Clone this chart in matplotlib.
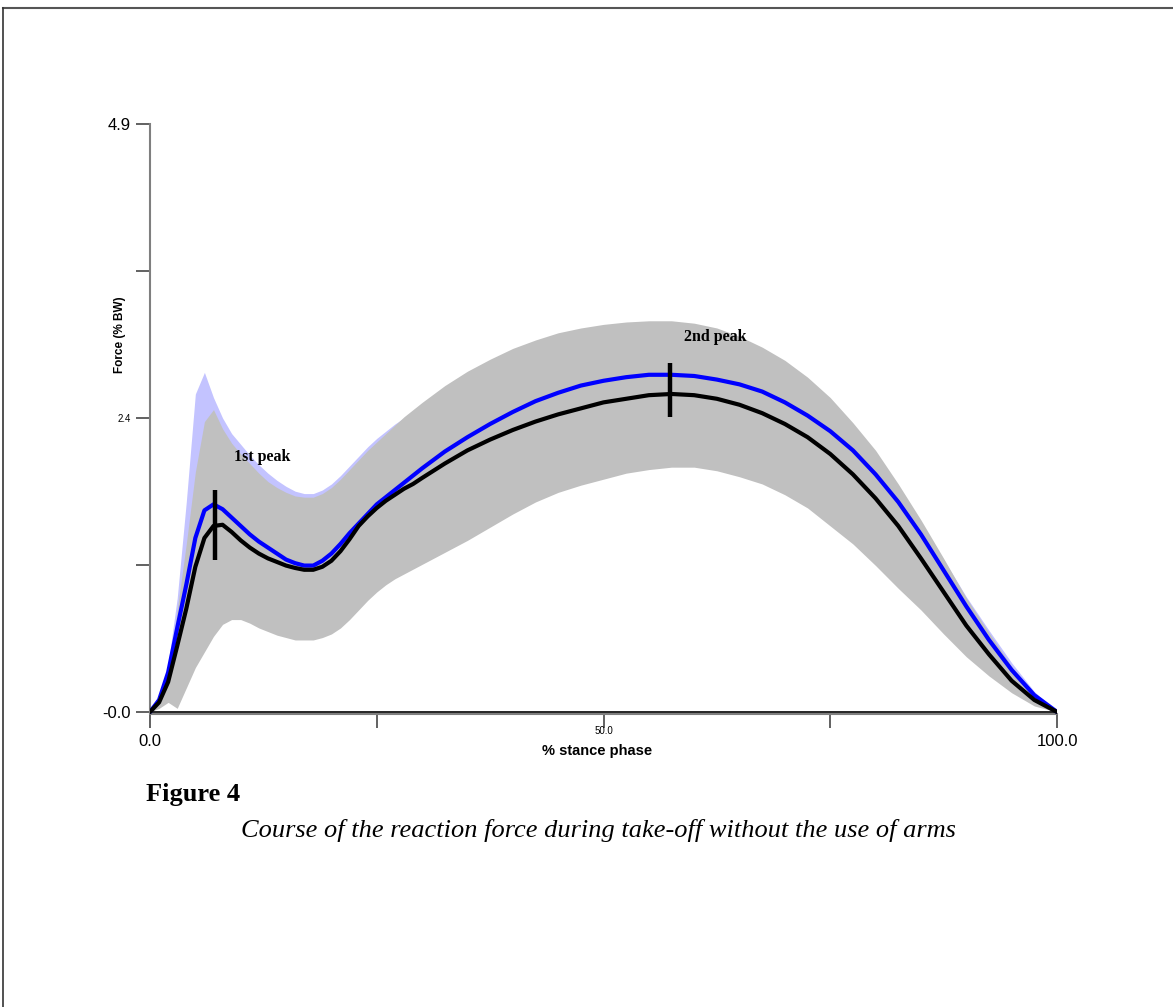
import matplotlib
matplotlib.use("Agg")
import matplotlib.pyplot as plt
from matplotlib.lines import Line2D
from matplotlib.transforms import blended_transform_factory

# ---- data ----
pct = [0, 1, 2, 3, 4, 5, 6, 7, 8, 9, 10, 11, 12, 13, 14, 15, 16, 17, 18, 19, 20,
       21, 22, 23, 24, 25, 26, 27, 28, 29, 30, 32.5, 35, 37.5, 40, 42.5, 45, 47.5,
       50, 52.5, 55, 57.5, 60, 62.5, 65, 67.5, 70, 72.5, 75, 77.5, 80, 82.5, 85,
       87.5, 90, 92.5, 95, 97.5, 100]

mean_black = [0, 0.08, 0.25, 0.55, 0.86, 1.21, 1.45, 1.55, 1.56, 1.5, 1.43, 1.37,
              1.32, 1.28, 1.25, 1.22, 1.2, 1.185, 1.185, 1.21, 1.26, 1.34, 1.44,
              1.55, 1.63, 1.7, 1.76, 1.81, 1.86, 1.9, 1.95, 2.07, 2.18, 2.27, 2.35,
              2.42, 2.48, 2.53, 2.58, 2.61, 2.64, 2.65, 2.64, 2.61, 2.56, 2.49, 2.4,
              2.29, 2.15, 1.98, 1.78, 1.55, 1.28, 1.0, 0.72, 0.48, 0.26, 0.1, 0]

mean_blue = [0, 0.1, 0.33, 0.7, 1.06, 1.45, 1.68, 1.73, 1.69, 1.62, 1.55, 1.48,
             1.42, 1.37, 1.32, 1.27, 1.24, 1.22, 1.22, 1.26, 1.32, 1.4, 1.49, 1.57,
             1.65, 1.73, 1.79, 1.85, 1.91, 1.97, 2.03, 2.17, 2.29, 2.4, 2.5, 2.59,
             2.66, 2.72, 2.76, 2.79, 2.81, 2.81, 2.8, 2.77, 2.73, 2.67, 2.58, 2.47,
             2.34, 2.18, 1.98, 1.75, 1.48, 1.18, 0.88, 0.6, 0.35, 0.14, 0]

black_upper = [0, 0.08, 0.3, 0.85, 1.4, 2.0, 2.42, 2.52, 2.36, 2.24, 2.15, 2.07,
               1.99, 1.92, 1.87, 1.83, 1.8, 1.79, 1.79, 1.82, 1.87, 1.94, 2.02, 2.1,
               2.18, 2.25, 2.32, 2.39, 2.46, 2.52, 2.58, 2.72, 2.84, 2.94, 3.03, 3.1,
               3.16, 3.2, 3.23, 3.25, 3.26, 3.26, 3.24, 3.2, 3.13, 3.04, 2.93, 2.79,
               2.62, 2.41, 2.18, 1.9, 1.6, 1.28, 0.95, 0.66, 0.38, 0.15, 0]

black_lower = [0, 0.03, 0.08, 0.03, 0.2, 0.37, 0.5, 0.63, 0.73, 0.77, 0.77, 0.74,
               0.7, 0.67, 0.64, 0.62, 0.6, 0.6, 0.6, 0.62, 0.65, 0.7, 0.77, 0.85,
               0.93, 1.0, 1.06, 1.11, 1.15, 1.19, 1.23, 1.33, 1.43, 1.54, 1.65, 1.75,
               1.83, 1.89, 1.94, 1.99, 2.02, 2.04, 2.04, 2.01, 1.96, 1.9, 1.81, 1.7,
               1.55, 1.4, 1.22, 1.03, 0.85, 0.65, 0.46, 0.3, 0.16, 0.05, 0]

blue_upper = [0, 0.12, 0.4, 0.95, 1.75, 2.65, 2.83, 2.62, 2.45, 2.32, 2.23, 2.14,
              2.06, 1.99, 1.93, 1.88, 1.84, 1.82, 1.82, 1.85, 1.9, 1.97, 2.05, 2.13,
              2.21, 2.28, 2.34, 2.4, 2.45, 2.5, 2.55, 2.68, 2.8, 2.9, 2.99, 3.06,
              3.12, 3.16, 3.19, 3.21, 3.22, 3.22, 3.2, 3.16, 3.1, 3.01, 2.91, 2.77,
              2.58, 2.37, 2.14, 1.87, 1.58, 1.27, 0.96, 0.68, 0.41, 0.17, 0]

blue_lower = [0, 0.05, 0.12, 0.1, 0.3, 0.5, 0.62, 0.75, 0.85, 0.9, 0.9, 0.88,
              0.85, 0.81, 0.78, 0.75, 0.73, 0.72, 0.72, 0.74, 0.77, 0.82, 0.88,
              0.96, 1.03, 1.1, 1.15, 1.2, 1.25, 1.29, 1.33, 1.44, 1.55, 1.66, 1.78,
              1.88, 1.95, 2.02, 2.08, 2.13, 2.16, 2.17, 2.17, 2.14, 2.09, 2.02, 1.93,
              1.82, 1.68, 1.53, 1.35, 1.15, 0.96, 0.75, 0.55, 0.37, 0.2, 0.07, 0]

peak_x = [7.2, 57.3]
peak_lo = [1.27, 2.46]
peak_hi = [1.85, 2.91]
peak_labels = ["1st peak", "2nd peak"]
peak_label_pos = [(9.3, 2.125), (58.9, 3.125)]

y_ticks = [0, 1.225, 2.45, 3.675, 4.9]
y_ticklabels = ["-0.0", "", "2.4", "", "4.9"]
x_ticks = [0, 25, 50, 75, 100]
x_ticklabels = ["0.0", "", "50.0", "", "100.0"]

W, H = 1173, 1007
fig = plt.figure(figsize=(W / 100, H / 100), dpi=100)
fig.patch.set_facecolor("white")

ax_l, ax_r, ax_t, ax_b = 150, 1057, 124, 714
ax = fig.add_axes([ax_l / W, 1 - ax_b / H, (ax_r - ax_l) / W, (ax_b - ax_t) / H])

ax.fill_between(pct, blue_lower, blue_upper, color="#c3c3ff", lw=0, zorder=1)
ax.fill_between(pct, black_lower, black_upper, color="#c0c0c0", lw=0, zorder=2)
ax.plot([0, 100], [0, 0], color="black", lw=1.2, zorder=3)
ax.plot(pct, mean_blue, color="#0000ff", lw=3.0, zorder=4,
        solid_joinstyle="round", solid_capstyle="round")
ax.plot(pct, mean_black, color="black", lw=3.0, zorder=5,
        solid_joinstyle="round", solid_capstyle="round")
ax.vlines(peak_x, peak_lo, peak_hi, color="black", lw=3.2, zorder=6)

for lab, (px, py) in zip(peak_labels, peak_label_pos):
    ax.text(px, py, lab, family="Liberation Serif", fontweight="bold",
            fontsize=11.5, ha="left", va="center", zorder=7)

ax.set_xlim(0, 100)
ax.set_ylim(-0.017, 4.9)
for s in ["top", "right"]:
    ax.spines[s].set_visible(False)
for s in ["left", "bottom"]:
    ax.spines[s].set_color("#7f7f7f")
    ax.spines[s].set_linewidth(1.5)
ax.spines["left"].set_bounds(0, 4.9)

ax.set_yticks(y_ticks)
ax.set_yticklabels(y_ticklabels, family="Liberation Sans")
ax.set_xticks(x_ticks)
ax.set_xticklabels([""] * len(x_ticks))
ax.tick_params(axis="both", direction="out", length=10, width=1.3, color="#555555")
ax.tick_params(axis="y", pad=4)
for lbl, t in zip(ax.get_yticklabels(), y_ticklabels):
    lbl.set_fontsize(7 if t == "2.4" else 12)

# x tick labels (the middle one is small and sits higher, as in the reference)
btr = blended_transform_factory(ax.transData, fig.transFigure)
for xv, t in zip(x_ticks, x_ticklabels):
    if not t:
        continue
    small = t == "50.0"
    ypix = 731 if small else 741
    ax.text(xv, 1 - ypix / H, t, transform=btr, ha="center", va="center",
            family="Liberation Sans", fontsize=7 if small else 12, clip_on=False)

fig.text(120 / W, 1 - 335 / H, "Force (% BW)", rotation=90, ha="center", va="center",
         fontsize=8.5, fontweight="bold", family="Liberation Sans")
fig.text(597 / W, 1 - 751 / H, "% stance phase", ha="center", va="center",
         fontsize=10.5, fontweight="bold", family="Liberation Sans")

fig.text(146 / W, 1 - 795 / H, "Figure 4", ha="left", va="center",
         family="Liberation Serif", fontweight="bold", fontsize=19)
fig.text(598 / W, 1 - 830 / H,
         "Course of the reaction force during take-off without the use of arms",
         ha="center", va="center", family="Liberation Serif", style="italic", fontsize=19)

# page border (top and left)
fig.add_artist(Line2D([3 / W, 1], [1 - 8 / H, 1 - 8 / H], transform=fig.transFigure,
                      color="#555555", lw=1.5))
fig.add_artist(Line2D([3 / W, 3 / W], [0, 1 - 8 / H], transform=fig.transFigure,
                      color="#333333", lw=1.2))

fig.savefig("out.png", dpi=100, facecolor="white")
